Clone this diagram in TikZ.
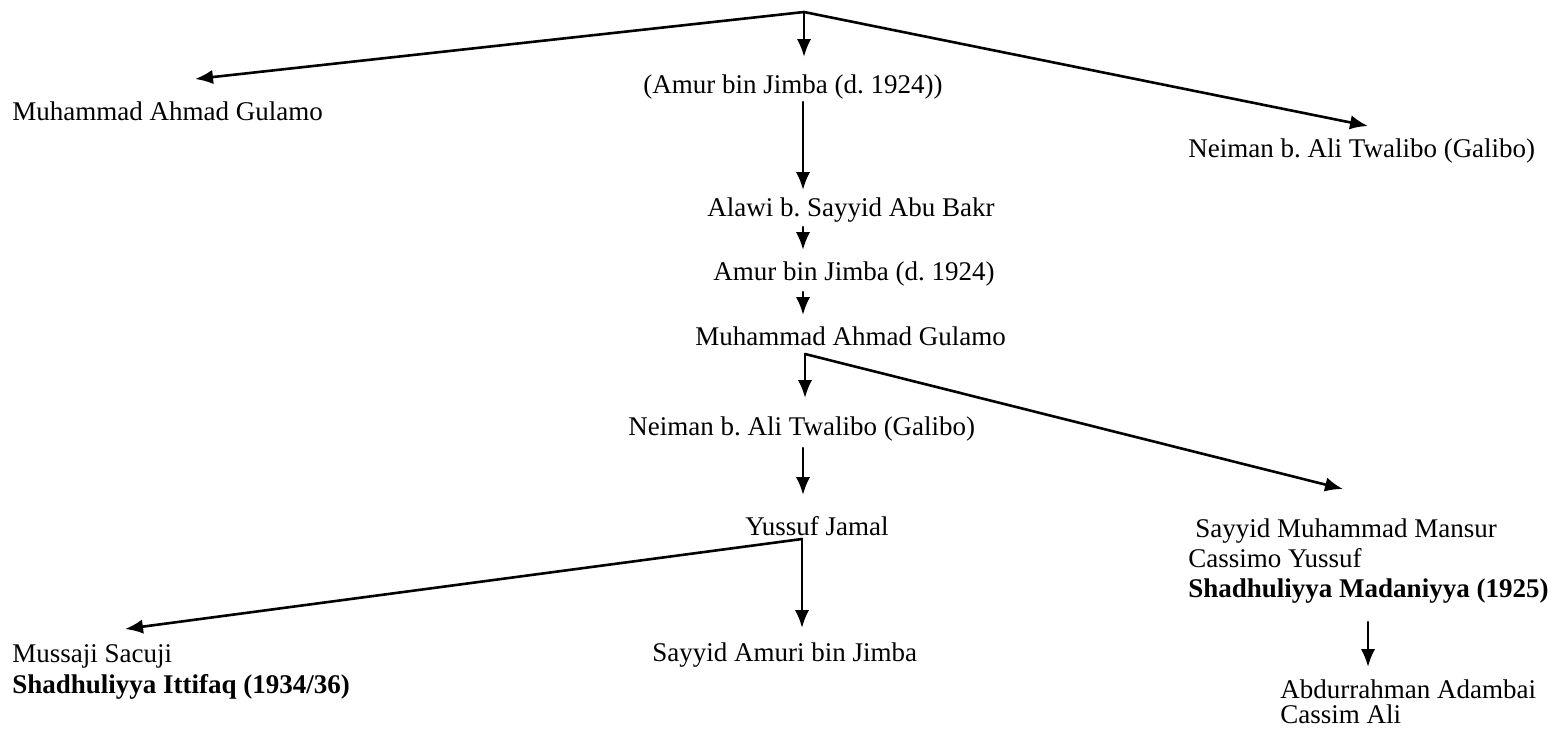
\documentclass[tikz,border=0pt]{standalone}
\usepackage{fontspec}
\setmainfont{Liberation Serif}
\usetikzlibrary{arrows.meta}
\frenchspacing
\begin{document}
\begin{tikzpicture}[x=0.5pt,y=-0.5pt,
  lbl/.style={anchor=base west,inner sep=0pt,font=\fontsize{13.5}{15}\selectfont},
  blbl/.style={lbl,font=\fontsize{13.5}{15}\selectfont\bfseries},
  conn/.style={line width=1.3pt,line cap=round},
  arr/.style={conn,-{Latex[length=9pt,width=7.2pt]}}]
\useasboundingbox (0,0) rectangle (1561,729);
% nodes
\node[lbl] (top1) at (643,93) {(Amur bin Jimba (d. 1924))};
\node[lbl] (left1) at (12,120) {Muhammad Ahmad Gulamo};
\node[lbl] (right1) at (1188,157) {Neiman b. Ali Twalibo (Galibo)};
\node[lbl] (alawi) at (707,216) {Alawi b. Sayyid Abu Bakr};
\node[lbl] (amur) at (713,280) {Amur bin Jimba (d. 1924)};
\node[lbl] (mag) at (695,345) {Muhammad Ahmad Gulamo};
\node[lbl] (neiman) at (628,435) {Neiman b. Ali Twalibo (Galibo)};
\node[lbl] (yussuf) at (745,535) {Yussuf Jamal};
\node[lbl] (amuri) at (652,661) {Sayyid Amuri bin Jimba};
\node[lbl] (mussaji) at (12,662) {Mussaji Sacuji};
\node[blbl] (ittifaq) at (12,693) {Shadhuliyya Ittifaq (1934/36)};
\node[lbl] (mansur) at (1195,537) {Sayyid Muhammad Mansur};
\node[lbl] (cassimo) at (1188,567) {Cassimo Yussuf};
\node[blbl] (madaniyya) at (1188,597) {Shadhuliyya Madaniyya (1925)};
\node[lbl] (abdur) at (1280,698) {Abdurrahman Adambai};
\node[lbl] (cassim) at (1280,723) {Cassim Ali};
% connector points
\coordinate (apexA) at (804,12);
\coordinate (tipAL) at (195,79);
\coordinate (tipAR) at (1368,126);
\coordinate (tipA) at (804,57);
\coordinate (s1) at (803,102);
\coordinate (e1) at (803,190);
\coordinate (s2) at (803,227);
\coordinate (e2) at (803,250);
\coordinate (s3) at (803,292);
\coordinate (e3) at (803,315);
\coordinate (apexB) at (805,354);
\coordinate (tipB) at (805,398);
\coordinate (tipBR) at (1343,489);
\coordinate (s4) at (803,448);
\coordinate (e4) at (803,495);
\coordinate (apexC) at (802,539);
\coordinate (tipCL) at (125,629);
\coordinate (tipC) at (802,628);
\coordinate (s5) at (1368,622);
\coordinate (e5) at (1368,667);
% connectors
\draw[arr] (apexA) -- (tipAL);
\draw[arr] (apexA) -- (tipAR);
\draw[arr] (apexA) -- (tipA);
\draw[arr] (s1) -- (e1);
\draw[arr] (s2) -- (e2);
\draw[arr] (s3) -- (e3);
\draw[arr] (apexB) -- (tipB);
\draw[arr] (apexB) -- (tipBR);
\draw[arr] (s4) -- (e4);
\draw[arr] (apexC) -- (tipCL);
\draw[arr] (apexC) -- (tipC);
\draw[arr] (s5) -- (e5);
\end{tikzpicture}
\end{document}
